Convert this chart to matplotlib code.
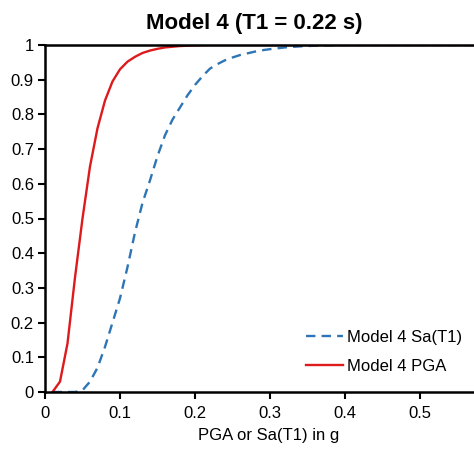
import matplotlib
matplotlib.use("Agg")
import matplotlib.pyplot as plt

plt.rcParams['font.family'] = ['Liberation Sans', 'DejaVu Sans']

title = "Model 4 (T1 = 0.22 s)"
xlabel = "PGA or Sa(T1) in g"
label_sa = "Model 4 Sa(T1)"
label_pga = "Model 4 PGA"

x_pga = [0.01, 0.02, 0.03, 0.04, 0.05, 0.06, 0.07, 0.08, 0.09, 0.10, 0.11, 0.12,
         0.13, 0.14, 0.15, 0.16, 0.18, 0.20, 0.22, 0.25, 0.30, 0.40, 0.50, 0.60]
y_pga = [0.0, 0.03, 0.14, 0.33, 0.50, 0.65, 0.76, 0.84, 0.895, 0.93, 0.952, 0.966,
         0.977, 0.984, 0.989, 0.993, 0.997, 0.999, 1.0, 1.0, 1.0, 1.0, 1.0, 1.0]

x_sa = [0.01, 0.02, 0.03, 0.04, 0.05, 0.06, 0.07, 0.08, 0.09, 0.10, 0.11, 0.12,
        0.13, 0.14, 0.15, 0.16, 0.17, 0.18, 0.19, 0.20, 0.21, 0.22, 0.23, 0.24,
        0.25, 0.26, 0.27, 0.28, 0.29, 0.30, 0.32, 0.34, 0.36, 0.38, 0.40, 0.45,
        0.50, 0.55, 0.60]
y_sa = [0.0, 0.0, 0.0, 0.0, 0.005, 0.03, 0.07, 0.13, 0.20, 0.27, 0.36, 0.46,
        0.545, 0.61, 0.68, 0.74, 0.785, 0.82, 0.855, 0.885, 0.91, 0.932, 0.945, 0.956,
        0.964, 0.971, 0.976, 0.981, 0.985, 0.988, 0.993, 0.996, 0.998, 0.999, 1.0, 1.0,
        1.0, 1.0, 1.0]

xticks = [0, 0.1, 0.2, 0.3, 0.4, 0.5]
xticklabels = ["0", "0.1", "0.2", "0.3", "0.4", "0.5"]
yticks = [0, 0.1, 0.2, 0.3, 0.4, 0.5, 0.6, 0.7, 0.8, 0.9, 1.0]
yticklabels = ["0", "0.1", "0.2", "0.3", "0.4", "0.5", "0.6", "0.7", "0.8", "0.9", "1"]

fig = plt.figure(figsize=(4.74, 4.74), dpi=100)
ax = fig.add_axes([45/474, 82/474, 1 - 45/474, (392-45)/474])

ax.plot(x_sa, y_sa, color='#2E75B6', lw=1.7, linestyle=(0, (4, 2.6)), label=label_sa)
ax.plot(x_pga, y_pga, color='#DD1A1C', lw=1.7, label=label_pga)

ax.set_xlim(0, 429/750)
ax.set_ylim(0, 1)
ax.set_xticks(xticks)
ax.set_xticklabels(xticklabels)
ax.set_yticks(yticks)
ax.set_yticklabels(yticklabels)
ax.tick_params(axis='both', labelsize=12, length=5, width=1.5, direction='out')
ax.tick_params(axis='y', pad=3)
ax.tick_params(axis='x', pad=5)
for s in ['left', 'bottom', 'top']:
    ax.spines[s].set_linewidth(1.8)
    ax.spines[s].set_color('black')
ax.spines['right'].set_visible(False)

ax.set_xlabel(xlabel, fontsize=12)
ax.xaxis.set_label_coords((269-45)/429, -(428-392)/347)

fig.text(254/474, 1 - 24/474, title, fontsize=16, fontweight='bold', ha='center', va='center')

leg = ax.legend(loc='upper left', bbox_to_anchor=(306/474, 1 - 330/474), bbox_transform=fig.transFigure,
                frameon=False, fontsize=12, handlelength=2.2, handletextpad=0.25,
                labelspacing=0.85, borderpad=0, borderaxespad=0)

fig.savefig("out.png", dpi=100)
